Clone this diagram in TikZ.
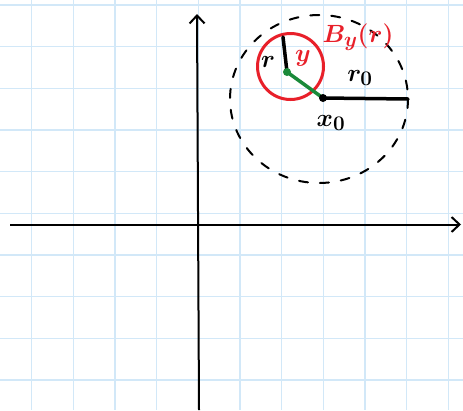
\documentclass[tikz,border=0pt]{standalone}
\usepackage{fontspec}
\setmainfont{Liberation Sans}
\usetikzlibrary{arrows.meta}
\definecolor{gridblue}{HTML}{D2E8F8}
\definecolor{penred}{HTML}{E8202A}
\definecolor{pengreen}{HTML}{1A8A3A}
\tikzset{
  gridline/.style={gridblue, line width=1.2pt},
  axis/.style={black, line width=2pt, -{Straight Barb[length=8pt,width=15pt,line width=2pt]}},
  pen/.style={line width=3.5pt, line cap=round},
  lbl/.style={inner sep=0pt, font=\fontsize{32}{34}\selectfont\boldmath},
  dot/.style={circle, fill, inner sep=0pt, minimum size=8pt}
}
\begin{document}
\begin{tikzpicture}[x=1pt,y=-1pt]
\useasboundingbox (0,0) rectangle (463,410);
\fill[white] (0,0) rectangle (463,410);
% grid
\foreach \i in {0,...,10} {
  \draw[gridline] ({31.7+41.67*\i},0) -- ({31.7+41.67*\i},410);
}
\foreach \j in {0,...,9} {
  \draw[gridline] (0,{5+41.67*\j}) -- (463,{5+41.67*\j});
}
% axes
\coordinate (xs) at (10,224.5);
\coordinate (xe) at (461,224.5);
\coordinate (ys) at (199,410);
\coordinate (ye) at (197,14);
\draw[axis] (xs) -- (xe);
\draw[axis] (ys) -- (ye);
% big dashed ball
\coordinate (x0) at (323,98);
\draw[line width=2pt, line cap=round, dash pattern=on 9pt off 12pt] (319,99) ellipse [x radius=89, y radius=84];
% r0 radius
\coordinate (r0end) at (408,99);
\draw[pen] (x0) -- (r0end);
% small red ball
\coordinate (yc) at (287,72);
\draw[penred, line width=3pt] (290.5,66.5) circle [radius=33];
% r segment
\coordinate (rtop) at (283,37);
\draw[pen] (yc) -- (rtop);
% green segment
\draw[pengreen, line width=3.5pt] (yc) -- (x0);
\node[dot, pengreen] (ydot) at (yc) {};
\node[dot, black] (xdot) at (x0) {};
% labels
\node[lbl] (rlab) at (268,62) {$r$};
\node[lbl, penred] (ylab) at (303,58) {$y$};
\node[lbl, penred] (Blab) at (358,37) {$B_y(r)$};
\node[lbl] (r0lab) at (360,78) {$r_0$};
\node[lbl] (x0lab) at (331,123) {$x_0$};
\end{tikzpicture}
\end{document}
